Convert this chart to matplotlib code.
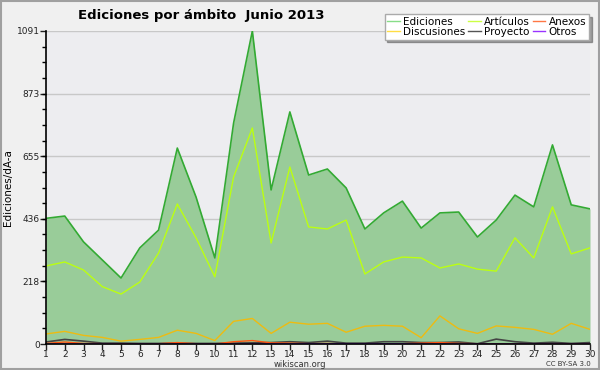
import numpy as np
import matplotlib
matplotlib.use('Agg')
from matplotlib import pyplot as plt
from matplotlib.patches import Rectangle

days = list(range(1, 31))
ediciones = [438, 446, 356, 293, 230, 335, 397, 683, 512, 300,
             770, 1091, 537, 809, 589, 610, 544, 401, 457, 498,
             404, 457, 460, 373, 432, 519, 478, 694, 485, 471]
articulos = [272, 286, 258, 200, 174, 216, 317, 488, 370, 234,
             582, 753, 352, 617, 408, 401, 432, 244, 286, 303,
             300, 265, 279, 261, 254, 370, 300, 478, 314, 335]
discusiones = [35, 44, 30, 23, 10, 16, 23, 48, 37, 12,
               79, 89, 37, 76, 69, 72, 41, 62, 65, 62,
               22, 98, 53, 37, 63, 58, 51, 34, 72, 51]
proyecto = [7, 16, 10, 3, 3, 2, 2, 3, 2, 2,
            3, 4, 5, 8, 5, 10, 3, 3, 8, 8,
            5, 5, 7, 1, 17, 8, 3, 6, 2, 5]
anexos = [2, 7, 2, 1, 1, 0, 1, 5, 1, 0,
          8, 12, 4, 3, 1, 2, 0, 1, 1, 1,
          3, 5, 2, 1, 1, 1, 0, 1, 1, 1]
otros = [0, 0, 0, 0, 0, 0, 0, 0, 0, 0,
         0, 0, 1, 1, 1, 1, 1, 1, 1, 1,
         0, 0, 0, 0, 0, 0, 0, 0, 0, 0]
yticks = [0, 218, 436, 655, 873, 1091]

plt.rcParams['font.family'] = ['DejaVu Sans']

fig = plt.figure(figsize=(6, 3.7), dpi=100, facecolor='#f0f0f0')
fig.patches.append(Rectangle((0.001, 0.002), 0.997, 0.995, transform=fig.transFigure,
                             fill=False, edgecolor='#a0a0a0', lw=1.5))
ax = fig.add_axes([46 / 600, 26 / 370, 544 / 600, 313 / 370])
ax.set_facecolor('#ededf0')

# filled total
ax.fill_between(days, 0, ediciones, color='#99cc99', lw=0, zorder=2)
ax.plot(days, ediciones, color='#33aa33', lw=1.2, zorder=3)
ax.plot(days, articulos, color='#bbff11', lw=1.0, zorder=3)
ax.plot(days, discusiones, color='#eebb11', lw=1.0, zorder=3)
ax.plot(days, proyecto, color='#444444', lw=1.2, zorder=3)
ax.plot(days, anexos, color='#ff5511', lw=1.0, zorder=3)
ax.plot(days, otros, color='#8822ee', lw=1.0, zorder=3)

ax.set_xlim(1, 30)
ax.set_ylim(0, 1091)
ax.set_xticks(days)
ax.set_xticklabels([str(d) for d in days], fontsize=6.5)
ax.set_yticks(yticks)
ax.set_yticklabels([str(v) for v in yticks], fontsize=6.5)
ax.set_yticks(np.linspace(0, 1091, 21), minor=True)
ax.tick_params(axis='both', length=4, width=1, pad=0.5, colors='#222222')
ax.tick_params(axis='y', which='minor', length=3, width=1)
ax.grid(axis='y', color='#c8c8c8', lw=1, zorder=1)
ax.set_axisbelow(True)
for s in ['top', 'right']:
    ax.spines[s].set_visible(False)
for s in ['left', 'bottom']:
    ax.spines[s].set_linewidth(1.2)
    ax.spines[s].set_zorder(5)

ax.set_ylabel('Ediciones/dÃ-a', fontsize=7.5)
ax.yaxis.set_label_coords(-0.06, 0.5)

fig.text(0.335, 0.958, 'Ediciones por ámbito  Junio 2013', fontsize=9.5,
         fontweight='bold', ha='center', va='center')
fig.text(0.5, 0.014, 'wikiscan.org', fontsize=6, ha='center', va='center', color='#333333')
fig.text(0.985, 0.016, 'CC BY-SA 3.0', fontsize=5, ha='right', va='center', color='#333333')

handles = [plt.Line2D([], [], color=c, lw=1) for c in
           ['#88dd88', '#ffdd44', '#ccff44', '#555555', '#ff7744', '#9933ff']]
labels = ['Ediciones', 'Discusiones', 'Artículos', 'Proyecto', 'Anexos', 'Otros']
leg = fig.legend(handles, labels, ncol=3, loc='upper right',
                 bbox_to_anchor=(0.99, 0.975), fontsize=7.5, frameon=True,
                 fancybox=False, shadow=True, handlelength=1.2, handletextpad=0.3,
                 columnspacing=0.3, labelspacing=0.0, borderpad=0.25)
leg.get_frame().set_edgecolor('#aaaaaa')
leg.get_frame().set_facecolor('white')

fig.savefig('out.png', dpi=100, facecolor=fig.get_facecolor())
